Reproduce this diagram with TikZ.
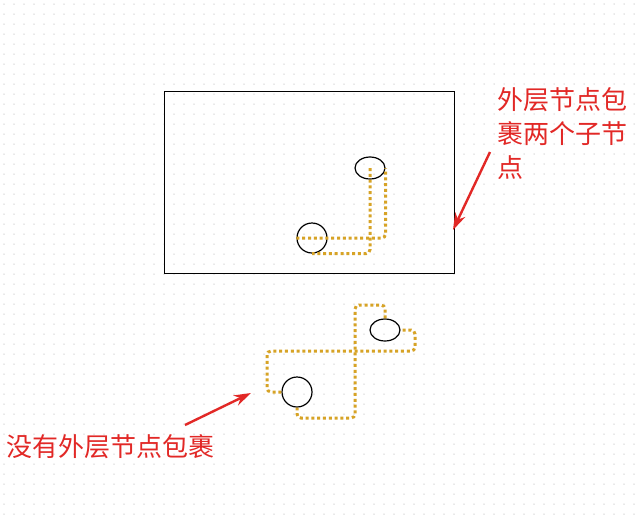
\documentclass[tikz,border=0pt]{standalone}
\usepackage{fontspec}
\newfontfamily\cjk{Noto Sans CJK SC}
\usetikzlibrary{shapes.geometric,arrows.meta}
\definecolor{linkgold}{RGB}{215,163,38}
\definecolor{notered}{RGB}{226,40,38}
\tikzset{
  cell/.style={draw, ellipse, line width=1.2pt, inner sep=0pt, minimum width=30pt, minimum height=#1},
  cell/.default=30pt,
  link/.style={draw=linkgold, line width=3pt, dash pattern=on 3pt off 2.8pt, rounded corners=4pt},
  note/.style={text=notered, font=\cjk\fontsize{26}{34}\selectfont, inner sep=0pt},
  pointer/.style={draw=notered, fill=notered, line width=2.4pt, -{Stealth[length=17pt,width=11pt]}}
}
\begin{document}
\begin{tikzpicture}[x=1pt, y=-1pt]
\useasboundingbox (0,0) rectangle (640,515);
\fill[white] (0,0) rectangle (640,515);
\foreach \gx in {4,14,...,634}
  \foreach \gy in {4,14,...,514}
    \fill[gray!35] (\gx,\gy) circle (0.75pt);

\node[draw, line width=1pt, minimum width=290pt, minimum height=182pt, inner sep=0pt] (outer)
    at (309,182) {};

\node[cell=22pt] (innerTop) at (370,168) {};
\node[cell] (innerBot) at (312,238) {};

\draw[link] (innerTop.center) |- (innerBot.south);
\draw[link] (innerBot.west) -| (innerTop.east);

\node[cell=22pt] (looseTop) at (385,330) {};
\node[cell] (looseBot) at (297,392) {};

\draw[link] (looseTop.north) -- (385,305) -- (355,305) -- (355,418) -- (297,418) -- (looseBot.south);
\draw[link] (looseBot.west) -- (267,392) -- (267,351) -- (415,351) -- (415,330) -- (looseTop.east);

\node[note, anchor=north west, align=left] (wrapNote) at (497,87) {外层节点包\\裹两个子节\\点};
\node[note, anchor=west] (looseNote) at (6,447) {没有外层节点包裹};

\coordinate (wrapTail) at (490,152);
\coordinate (wrapTip) at (453,230);
\coordinate (looseTail) at (185,425);
\coordinate (looseTip) at (251,393);

\draw[pointer] (wrapTail) -- (wrapTip);
\draw[pointer] (looseTail) -- (looseTip);

\end{tikzpicture}
\end{document}
